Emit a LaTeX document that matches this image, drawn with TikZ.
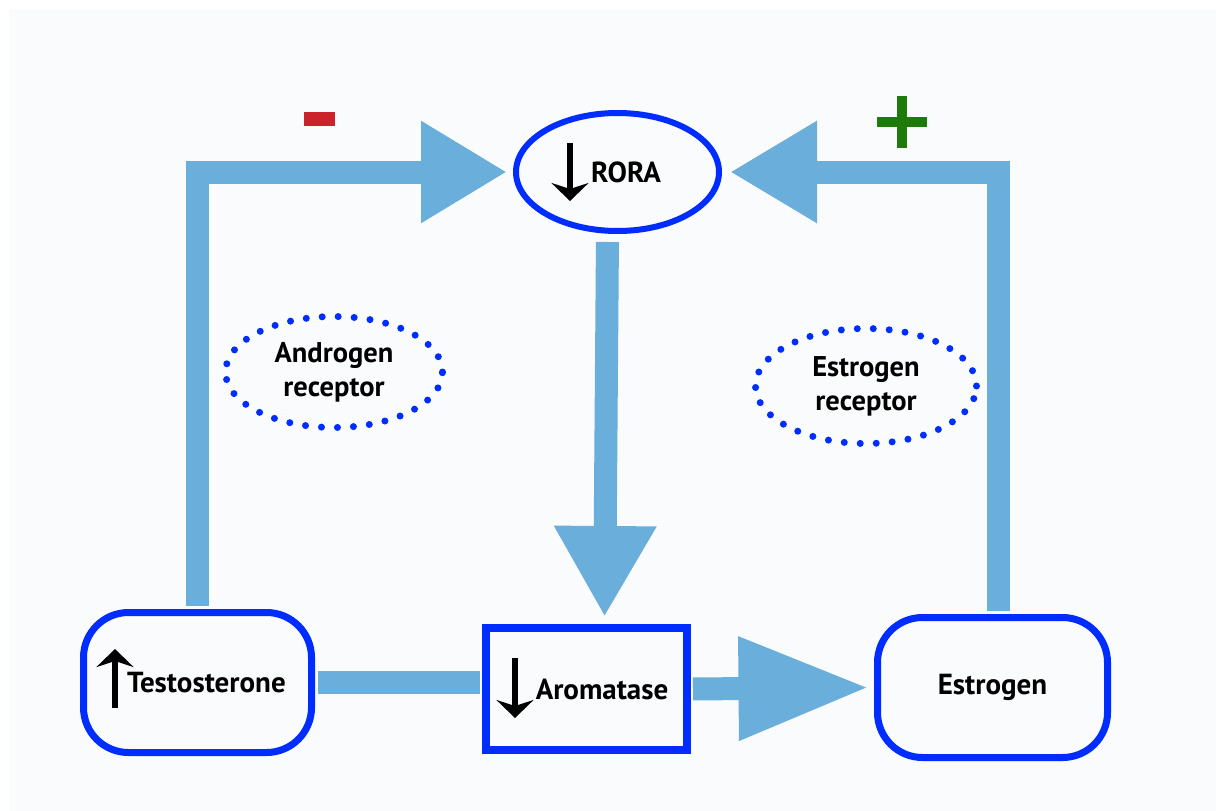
\documentclass[tikz,border=0pt]{standalone}
\usepackage{fontspec}
\setmainfont{PT Sans}
\usetikzlibrary{arrows.meta, shapes.geometric}

\definecolor{nodeblue}{RGB}{0,45,255}
\definecolor{flowblue}{RGB}{106,174,219}
\definecolor{minusred}{RGB}{204,34,41}
\definecolor{plusgreen}{RGB}{31,122,12}
\definecolor{bgpaper}{RGB}{250,251,252}

\begin{document}
\begin{tikzpicture}[x=1pt, y=-1pt,
		label/.style={font=\bfseries\fontsize{29}{31}\selectfont},
		box/.style={label, draw=nodeblue, line width=7pt, minimum width=228pt, minimum height=140pt, rounded corners=45pt},
		receptor/.style={draw=nodeblue, ellipse, line width=7pt, dash pattern=on 0pt off 16pt, line cap=round, align=center, font=\bfseries\fontsize{28.5}{34}\selectfont},
		flow/.style={draw=flowblue, line width=23pt},
		updown/.style={-{Stealth[length=18pt, width=37pt, inset=6pt]}, line width=6pt}]
				\useasboundingbox (0, 0) rectangle (1216, 811);
				\fill[bgpaper] (9, 9) rectangle (1216, 811);
				% boxes
				\node[box] (T)at(197.5, 682.5) {\hspace*{18pt}Testosterone};
				\node[box, rounded corners=0pt, line width=8pt, minimum width=201pt, minimum height=122pt] (A)at(586.5, 689) {\hspace*{31pt}Aromatase};
				\node[box, minimum width=230pt] (E)at(992.5, 687.5) {Estrogen};
				\node[label, draw=nodeblue, ellipse, line width=6pt, minimum width=203pt, minimum height=118pt] (R)at(617.5, 172) {\hspace*{17pt}RORA};
				\node[receptor, minimum width=217pt, minimum height=111pt] (AR)at(334, 372) {Androgen\\receptor};
				\node[receptor, minimum width=221pt, minimum height=115pt] (ER)at(866, 386) {Estrogen\\receptor};
				% small arrows
				\draw[updown] ([shift={(-82.5, 25.5)}]T.center) -- ([shift={(-82.5, -33.5)}]T.center);
				\draw[updown] ([shift={(-71.5, -31)}]A.center) -- ([shift={(-71.5, 29)}]A.center);
				\draw[updown] ([shift={(-47.5, -29)}]R.center) -- ([shift={(-47.5, 29)}]R.center);
				% flows
				\draw[flow, -{Triangle[length=86pt, width=96pt]}, shorten <=3.5pt, shorten >=6pt] (T.north) |- (R.west);
				\draw[flow, -{Triangle[length=87pt, width=96pt]}, shorten <=3.5pt, shorten >=8pt] ([xshift=5.5pt]E.north) |- (R.east);
				\draw[flow, -{Triangle[length=91pt, width=96pt]}, shorten <=8pt, shorten >=7pt] ([xshift=-10pt]R.south) -- ([xshift=18pt]A.north);
				\draw[flow, shorten <=3pt, shorten >=2pt] (T.east) -- (T.east -| A.west);
				\draw[flow, -{Triangle[length=130pt, width=98pt]}, shorten <=2pt, shorten >=5.5pt] (A.east) -- (E.west);
				% signs
				\fill[minusred] (304, 112) rectangle (335, 126);
				\fill[plusgreen] (877, 117) rectangle (927, 127);
				\fill[plusgreen] (897, 96) rectangle (907, 148);
			\end{tikzpicture}
\end{document}
